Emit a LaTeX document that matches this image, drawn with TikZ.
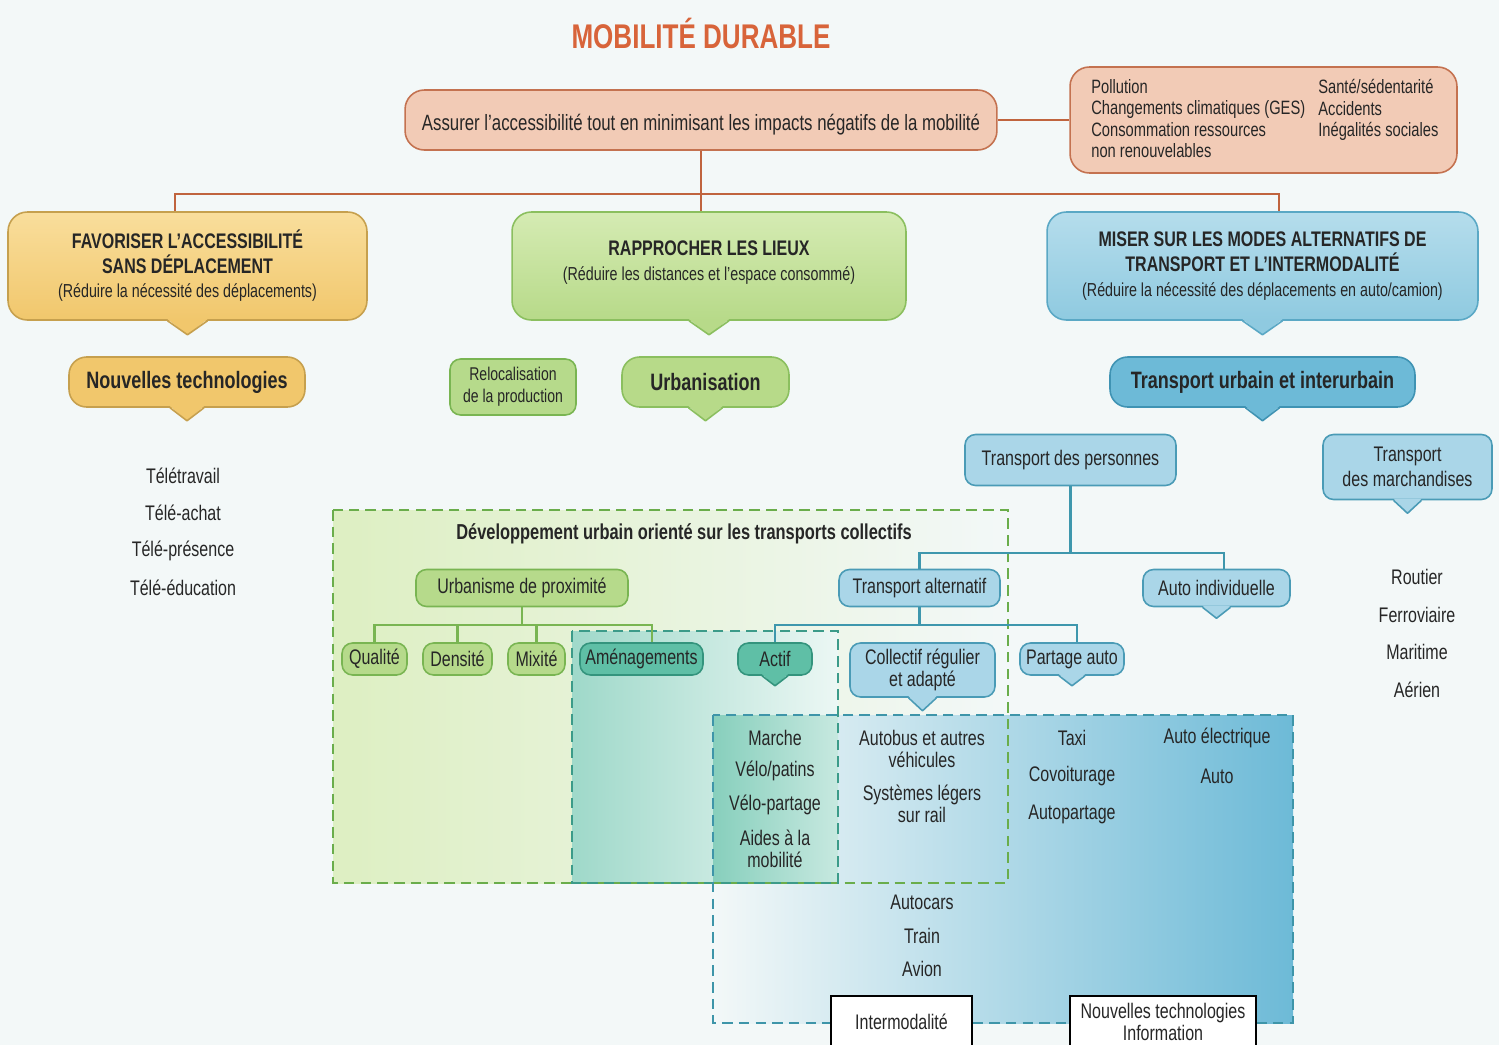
\documentclass[tikz,border=0pt]{standalone}
\usepackage{fontspec}
\setmainfont{Liberation Sans}[FakeStretch=0.76]

\definecolor{bg}{HTML}{F3F8F8}
\definecolor{ink}{HTML}{262626}
\definecolor{titlecol}{HTML}{D8643A}
\definecolor{salmon}{HTML}{F2CBB6}
\definecolor{salmonD}{HTML}{C47250}
\definecolor{brownc}{HTML}{C0643E}
\definecolor{yelT}{HTML}{F9DE9C}
\definecolor{yelB}{HTML}{F1C76C}
\definecolor{yelD}{HTML}{C6A04E}
\definecolor{greT}{HTML}{D5EBB3}
\definecolor{greB}{HTML}{B7DA89}
\definecolor{greD}{HTML}{8BBF5F}
\definecolor{bluT}{HTML}{B5DDEC}
\definecolor{bluB}{HTML}{8FCAE0}
\definecolor{bluD}{HTML}{5AA8C5}
\definecolor{bluDark}{HTML}{6DBAD7}
\definecolor{bluDarkD}{HTML}{3F93B3}
\definecolor{bluLight}{HTML}{AAD6E8}
\definecolor{bluLightD}{HTML}{4A9BB6}
\definecolor{tealF}{HTML}{5FBFA6}
\definecolor{tealD}{HTML}{34947D}
\definecolor{gsmall}{HTML}{B6DA8B}
\definecolor{gsmallD}{HTML}{79B552}
\definecolor{tealc}{HTML}{3E97AD}
\definecolor{greenc}{HTML}{79B552}
\definecolor{dgreen}{HTML}{6AAD4B}
\definecolor{dteal}{HTML}{3C9B89}
\definecolor{dblue}{HTML}{3E95A9}

% pointer under a bubble: node, half width (px), depth (px), fill, border
\newcommand{\pointer}[5]{%
  \fill[#4] ([xshift=-#2*0.02cm, yshift=0.9pt]#1.south) -- ([yshift=-#3*0.02cm]#1.south) -- ([xshift=#2*0.02cm, yshift=0.9pt]#1.south) -- cycle;
  \draw[#5, line width=0.9pt, line join=round] ([xshift=-#2*0.02cm]#1.south) -- ([yshift=-#3*0.02cm]#1.south) -- ([xshift=#2*0.02cm]#1.south);
}

\tikzset{
  every node/.style={text=ink},
  box/.style={draw, line width=0.9pt, rounded corners=6pt, align=center, inner sep=0pt, font=\fontsize{12}{14}\selectfont},
  bigbox/.style={box, rounded corners=11pt},
  goalbox/.style={bigbox, fill=salmon, draw=salmonD},
  favbox/.style={bigbox, top color=yelT, bottom color=yelB, draw=yelD},
  rapbox/.style={bigbox, top color=greT, bottom color=greB, draw=greD},
  misbox/.style={bigbox, top color=bluT, bottom color=bluB, draw=bluD},
  headnode/.style={box, rounded corners=10pt, font=\bfseries\fontsize{13.5}{16}\selectfont},
  grenode/.style={box, fill=gsmall, draw=gsmallD},
  bluenode/.style={box, fill=bluLight, draw=bluLightD},
  tealnode/.style={box, fill=tealF, draw=tealD},
  whitebox/.style={draw=black, line width=0.6pt, fill=white, align=center, inner sep=0pt, font=\fontsize{12}{12.5}\selectfont},
  listtxt/.style={inner sep=0pt, align=center, font=\fontsize{12}{12.5}\selectfont},
  impacttxt/.style={inner sep=0pt, align=left, font=\fontsize{11}{12.2}\selectfont},
  brownline/.style={draw=brownc, line width=1.2pt},
  tealline/.style={draw=tealc, line width=1.2pt},
  greenline/.style={draw=greenc, line width=1.2pt},
  zone/.style={line width=1.2pt, dash pattern=on 6pt off 3.5pt}
}

\begin{document}
\begin{tikzpicture}[x=0.02cm, y=-0.02cm]
    \useasboundingbox (0,0) rectangle (1499,1045);
    \fill[bg] (0,0) rectangle (1499,1045);

    % Zones (fills first, borders after)
    \shade[left color=greT!80!white, right color=bg] (333,510) rectangle (1008,883);
    \shade[left color=bg, right color=bluDark] (713,715) rectangle (1293,1023);
    \shade[left color=tealF!60!white, right color=tealF!12!white] (572,631) rectangle (838,883);
    \shade[left color=tealF!75!white, right color=tealF!35!white] (713,715) rectangle (838,883);
    \draw[zone, draw=dgreen] (333,510) rectangle (1008,883);
    \draw[zone, draw=dteal] (572,631) rectangle (838,883);
    \draw[zone, draw=dblue] (713,715) rectangle (1293,1023);

    % Title
    \node[font=\bfseries\fontsize{19.5}{21}\selectfont, text=titlecol] (title) at (701,33) {MOBILITÉ DURABLE};

    % General goal and impacts
    \node[goalbox, minimum width=11.84cm, minimum height=1.2cm, text height=15pt, text depth=3pt, font=\fontsize{12.6}{14}\selectfont] (goal) at (701,120) {Assurer l’accessibilité tout en minimisant les impacts négatifs de la mobilité};
    \node[goalbox, minimum width=7.74cm, minimum height=2.12cm] (impacts) at (1263.5,120) {};
    \node[impacttxt, anchor=north west] (impL) at (1091,79) {Pollution\\Changements climatiques (GES)\\Consommation ressources\\non renouvelables};
    \node[impacttxt, anchor=north west] (impR) at (1318,79) {Santé/sédentarité\\Accidents\\Inégalités sociales};

    % Three strategies
    \node[favbox, minimum width=7.18cm, minimum height=2.16cm] (fav) at (187.5,266) {\bfseries FAVORISER L’ACCESSIBILITÉ\\\bfseries SANS DÉPLACEMENT\\{\fontsize{10.7}{13}\selectfont (Réduire la nécessité des déplacements)}};
    \node[rapbox, minimum width=7.88cm, minimum height=2.16cm] (rap) at (709,266) {\bfseries RAPPROCHER LES LIEUX\\{\fontsize{10.7}{13}\selectfont (Réduire les distances et l’espace consommé)}\\[-8pt]\mbox{}};
    \node[misbox, minimum width=8.62cm, minimum height=2.16cm] (mis) at (1262.5,266) {\bfseries MISER SUR LES MODES ALTERNATIFS DE\\\bfseries TRANSPORT ET L’INTERMODALITÉ\\{\fontsize{10.7}{13}\selectfont (Réduire la nécessité des déplacements en auto/camion)}};
    \pointer{fav}{20}{14}{yelB}{yelD}
    \pointer{rap}{20}{14}{greB}{greD}
    \pointer{mis}{20}{14}{bluB}{bluD}

    \draw[brownline] (goal.east) -- (impacts.west);
    \coordinate (bar) at (701,194);
    \draw[brownline] (goal.south) -- (goal.south |- rap.north);
    \draw[brownline] ([xshift=-0.25cm]fav.north) |- (bar) -| ([xshift=0.33cm]mis.north);

    % Second level
    \node[headnode, fill=yelB, draw=yelD, minimum width=4.72cm, minimum height=1cm] (newtech) at (187,382) {Nouvelles technologies};
    \node[grenode, minimum width=2.52cm, minimum height=1.12cm, font=\fontsize{10.5}{12.5}\selectfont] (reloc) at (513,387) {Relocalisation\\de la production};
    \node[headnode, fill=greB, draw=greD, minimum width=3.34cm, minimum height=1cm] (urba) at (705.5,382) {Urbanisation};
    \node[headnode, fill=bluDark, draw=bluDarkD, minimum width=6.1cm, minimum height=1cm] (tui) at (1262.5,382) {Transport urbain et interurbain};
    \pointer{newtech}{17}{13}{yelB}{yelD}
    \pointer{urba}{17}{13}{greB}{greD}
    \pointer{tui}{17}{13}{bluDark}{bluDarkD}

    % Without travel
    \node[listtxt] (tele1) at (183,476) {Télétravail};
    \node[listtxt] (tele2) at (183,513) {Télé-achat};
    \node[listtxt] (tele3) at (183,551) {Télé-présence};
    \node[listtxt] (tele4) at (183,588) {Télé-éducation};

    % Persons / goods
    \node[bluenode, minimum width=4.22cm, minimum height=1.02cm] (tdp) at (1070.5,460) {Transport des personnes};
    \node[bluenode, minimum width=3.38cm, minimum height=1.3cm] (tdm) at (1407.5,467) {Transport\\des marchandises};
    \pointer{tdm}{14}{13}{bluLight}{bluLightD}
    \node[listtxt] (road) at (1417,577) {Routier};
    \node[listtxt] (rail) at (1417,615) {Ferroviaire};
    \node[listtxt] (sea) at (1417,652) {Maritime};
    \node[listtxt] (air) at (1417,690) {Aérien};

    % Transit oriented development
    \node[font=\bfseries\fontsize{12.3}{14}\selectfont, inner sep=0pt] (tod) at (684,534) {Développement urbain orienté sur les transports collectifs};
    \node[grenode, minimum width=4.24cm, minimum height=0.74cm] (udp) at (522,588) {Urbanisme de proximité};
    \node[grenode, minimum width=1.3cm, minimum height=0.64cm] (qual) at (374.5,659) {Qualité};
    \node[grenode, minimum width=1.38cm, minimum height=0.64cm] (dens) at (457.5,659) {Densité};
    \node[grenode, minimum width=1.14cm, minimum height=0.64cm] (mix) at (536.5,659) {Mixité};
    \node[tealnode, minimum width=2.46cm, minimum height=0.64cm] (amen) at (641.5,659) {Aménagements};
    \coordinate (ubar) at (525,625);
    \draw[greenline] (udp.south) -- (udp.south |- ubar);
    \draw[greenline] (qual.north) |- (ubar) -| ([xshift=0.21cm]amen.north);
    \draw[greenline] (dens.north) -- (dens.north |- ubar);
    \draw[greenline] (mix.north) -- (mix.north |- ubar);

    % Alternative transport
    \node[bluenode, minimum width=3.22cm, minimum height=0.74cm] (talt) at (919.5,588) {Transport alternatif};
    \node[bluenode, minimum width=2.94cm, minimum height=0.74cm] (aind) at (1216.5,588) {Auto individuelle};
    \node[tealnode, minimum width=1.48cm, minimum height=0.64cm] (actif) at (775,659) {Actif};
    \node[bluenode, minimum width=2.9cm, minimum height=1.08cm, font=\fontsize{12}{12.5}\selectfont] (coll) at (922.5,670) {Collectif régulier\\et adapté};
    \node[bluenode, minimum width=2.08cm, minimum height=0.64cm] (part) at (1072,659) {Partage auto};
    \pointer{aind}{14}{11}{bluLight}{bluLightD}
    \pointer{actif}{13}{10}{tealF}{tealD}
    \pointer{coll}{14}{13}{bluLight}{bluLightD}
    \pointer{part}{13}{10}{bluLight}{bluLightD}
    \coordinate (pbar) at (1065,553);
    \draw[tealline] (tdp.south) -- (tdp.south |- pbar);
    \draw[tealline] (talt.north) |- (pbar) -| ([xshift=0.15cm]aind.north);
    \coordinate (tbar) at (919,625);
    \draw[tealline] (talt.south) -- (talt.south |- tbar);
    \draw[tealline] (actif.north) |- (tbar) -| ([xshift=0.1cm]part.north);

    % Modes
    \node[listtxt] (walk) at (775,738) {Marche};
    \node[listtxt] (bike) at (775,771) {Vélo/patins};
    \node[listtxt] (bikeshare) at (775,805) {Vélo-partage};
    \node[listtxt] (aids) at (775,849) {Aides à la\\mobilité};
    \node[listtxt] (bus) at (922,749) {Autobus et autres\\véhicules};
    \node[listtxt] (lrt) at (922,804) {Systèmes légers\\sur rail};
    \node[listtxt] (coach) at (922,902) {Autocars};
    \node[listtxt] (train) at (922,936) {Train};
    \node[listtxt] (plane) at (922,969) {Avion};
    \node[listtxt] (taxi) at (1072,738) {Taxi};
    \node[listtxt] (carpool) at (1072,776) {Covoiturage};
    \node[listtxt] (carshare) at (1072,814) {Autopartage};
    \node[listtxt] (ecar) at (1217,738) {Auto électrique};
    \node[listtxt] (car) at (1217,776) {Auto};

    % Bottom boxes
    \node[whitebox, minimum width=2.82cm, minimum height=1.04cm] (intermod) at (901.5,1022) {Intermodalité};
    \node[whitebox, minimum width=3.72cm, minimum height=1.04cm] (ntic) at (1163,1022) {Nouvelles technologies\\Information};
\end{tikzpicture}
\end{document}
